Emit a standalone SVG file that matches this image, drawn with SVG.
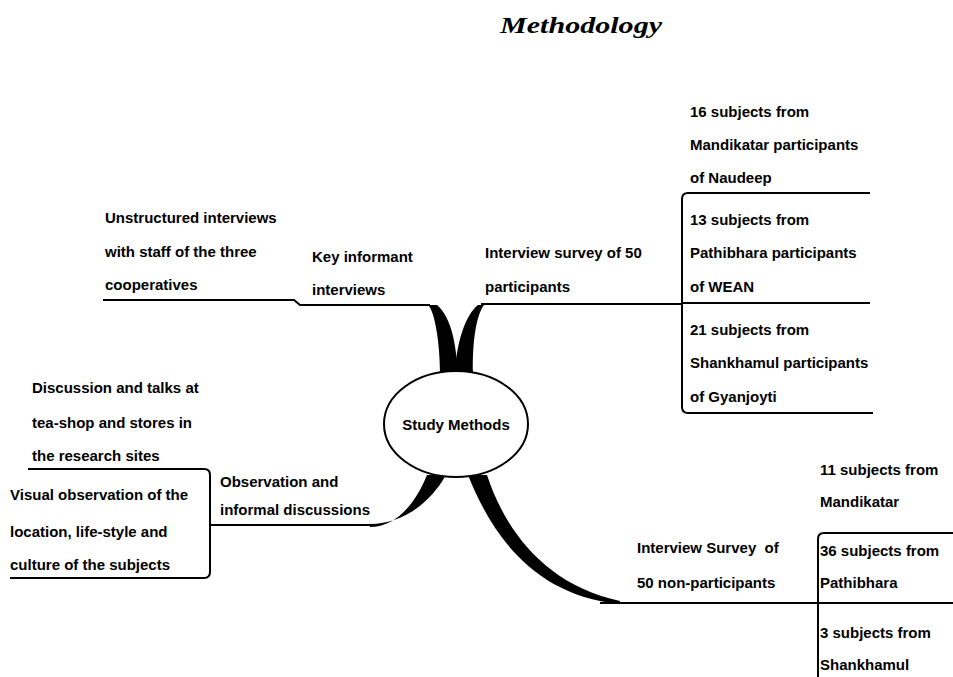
<svg xmlns="http://www.w3.org/2000/svg" width="953" height="677" viewBox="0 0 953 677">
<style>
.t{font-family:"Liberation Sans",Arial,sans-serif;font-weight:bold;font-size:15px;fill:#000}
.ln{fill:none;stroke:#000;stroke-width:2}
.br{fill:#000;stroke:none}
</style>
<rect width="953" height="677" fill="#fff"/>
<text x="500" y="33" font-family="'Liberation Serif',serif" font-style="italic" font-weight="bold" font-size="24" textLength="162" lengthAdjust="spacingAndGlyphs">Methodology</text>

<g id="connectors">
  <path class="br" d="M428 305 C434 310 440 340 440 374 L458 374 C456 345 452 318 437 305 Z"/>
  <path class="br" d="M484 305 C476 315 472 345 473 374 L455 374 C456 345 465 315 478 305 Z"/>
  <path class="br" d="M370 527 C395 527 415 505 427 475 L446 475 C432 500 405 524 370 524 Z"/>
  <path class="br" d="M468 475 C490 530 530 595 620 604 L620 601 C545 585 505 530 487 475 Z"/>
  <path class="ln" d="M103 300 L294 300 L300 305 L430 305"/>
  <path class="ln" d="M481 304 L682 304"/>
  <path class="ln" d="M210 525 L372 525"/>
  <path class="ln" d="M600 603 L818 603"/>
</g>

<g id="center">
  <ellipse cx="456" cy="424" rx="72" ry="53" fill="#fff" stroke="#000" stroke-width="2"/>
  <text class="t" x="456" y="430" text-anchor="middle">Study Methods</text>
</g>

<g id="key-informant">
  <text class="t" x="312" y="262">Key informant</text>
  <text class="t" x="312" y="295">interviews</text>
</g>
<g id="unstructured">
  <text class="t" x="105" y="223">Unstructured interviews</text>
  <text class="t" x="105" y="257">with staff of the three</text>
  <text class="t" x="105" y="290">cooperatives</text>
</g>

<g id="interview-participants">
  <text class="t" x="485" y="258">Interview survey of 50</text>
  <text class="t" x="485" y="292">participants</text>
</g>
<g id="participants-box">
  <path class="ln" d="M870 193 L688 193 Q682 193 682 199 L682 407 Q682 413 688 413 L873 413"/>
  <path class="ln" d="M682 303 L870 303"/>
  <text class="t" x="690" y="117">16 subjects from</text>
  <text class="t" x="690" y="150">Mandikatar participants</text>
  <text class="t" x="690" y="183">of Naudeep</text>
  <text class="t" x="690" y="225">13 subjects from</text>
  <text class="t" x="690" y="258">Pathibhara participants</text>
  <text class="t" x="690" y="292">of WEAN</text>
  <text class="t" x="690" y="335">21 subjects from</text>
  <text class="t" x="690" y="368">Shankhamul participants</text>
  <text class="t" x="690" y="402">of Gyanjoyti</text>
</g>

<g id="observation">
  <text class="t" x="220" y="487">Observation and</text>
  <text class="t" x="220" y="515">informal discussions</text>
</g>
<g id="observation-box">
  <path class="ln" d="M28 469 L204 469 Q210 469 210 475 L210 572 Q210 578 204 578 L10 578"/>
  <text class="t" x="32" y="393">Discussion and talks at</text>
  <text class="t" x="32" y="428">tea-shop and stores in</text>
  <text class="t" x="32" y="461">the research sites</text>
  <text class="t" x="10" y="500">Visual observation of the</text>
  <text class="t" x="10" y="537">location, life-style and</text>
  <text class="t" x="10" y="570">culture of the subjects</text>
</g>

<g id="interview-nonparticipants">
  <text class="t" x="637" y="553" xml:space="preserve">Interview Survey  of</text>
  <text class="t" x="637" y="588">50 non-participants</text>
</g>
<g id="nonparticipants-box">
  <path class="ln" d="M953 533 L824 533 Q818 533 818 539 L818 677"/>
  <path class="ln" d="M818 603 L953 603"/>
  <text class="t" x="820" y="475">11 subjects from</text>
  <text class="t" x="820" y="507">Mandikatar</text>
  <text class="t" x="820" y="556">36 subjects from</text>
  <text class="t" x="820" y="588">Pathibhara</text>
  <text class="t" x="820" y="638">3 subjects from</text>
  <text class="t" x="820" y="670">Shankhamul</text>
</g>
</svg>
